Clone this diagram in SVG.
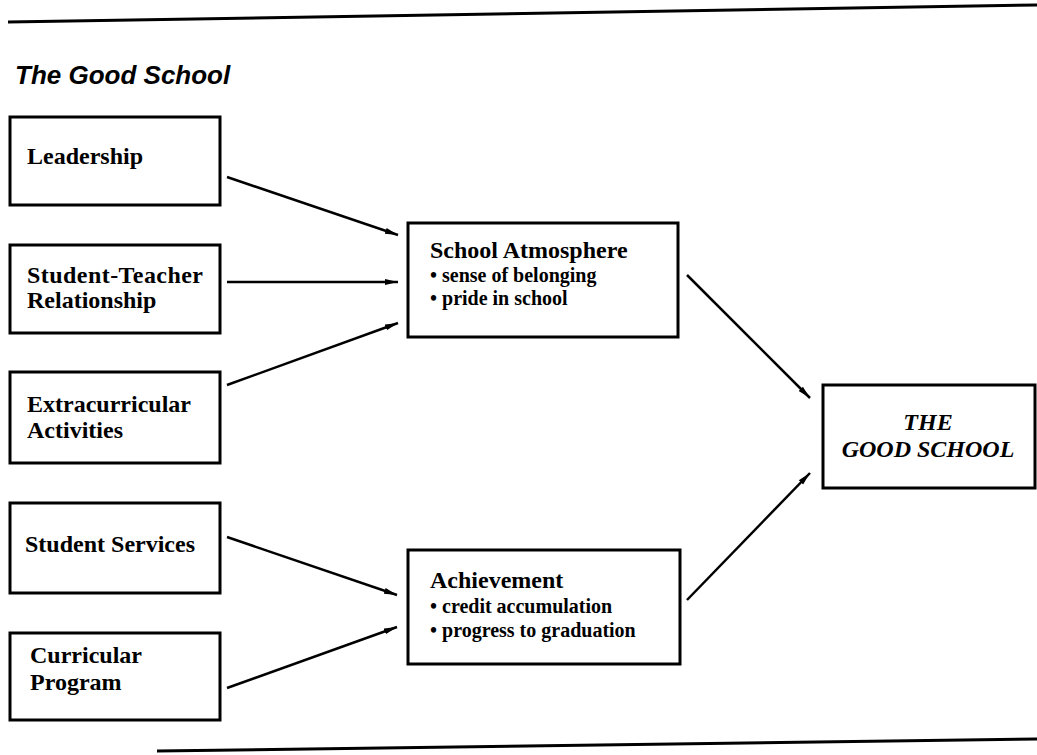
<svg xmlns="http://www.w3.org/2000/svg" width="1037" height="755" viewBox="0 0 1037 755">
<style>
.box{fill:#fff;stroke:#000;stroke-width:3}
.lbl{font-family:"Liberation Serif",serif;font-weight:bold;font-size:24px;fill:#000}
.head{font-family:"Liberation Serif",serif;font-weight:bold;font-size:24px;fill:#000}
.bul{font-family:"Liberation Serif",serif;font-weight:bold;font-size:20px;fill:#000}
.big{font-family:"Liberation Serif",serif;font-weight:bold;font-style:italic;font-size:24px;fill:#000}
.title{font-family:"Liberation Sans",sans-serif;font-weight:bold;font-style:italic;font-size:26px;fill:#000}
.rule{stroke:#000;stroke-width:3;fill:none}
.conn line{stroke:#000;stroke-width:2.5;marker-end:url(#ah)}
</style>
<defs>
<marker id="ah" markerUnits="userSpaceOnUse" markerWidth="14" markerHeight="8" refX="13" refY="4" orient="auto">
<path d="M0,1 L13,4 L0,7 Z" fill="#000"/>
</marker>
</defs>
<rect width="1037" height="755" fill="#fff"/>
<line class="rule" x1="8" y1="22" x2="1037" y2="5"/>
<line class="rule" x1="157" y1="751" x2="1037" y2="739"/>
<text class="title" x="15" y="84">The Good School</text>

<g id="leadership">
<rect class="box" x="10" y="117" width="210" height="88"/>
<text class="lbl" x="27" y="164">Leadership</text>
</g>
<g id="student-teacher">
<rect class="box" x="10" y="245" width="210" height="88"/>
<text class="lbl" x="27" y="283" textLength="176">Student-Teacher</text>
<text class="lbl" x="27" y="308">Relationship</text>
</g>
<g id="extracurricular">
<rect class="box" x="10" y="372" width="210" height="91"/>
<text class="lbl" x="27" y="412">Extracurricular</text>
<text class="lbl" x="27" y="438">Activities</text>
</g>
<g id="student-services">
<rect class="box" x="10" y="503" width="210" height="90"/>
<text class="lbl" x="25" y="552">Student Services</text>
</g>
<g id="curricular">
<rect class="box" x="10" y="633" width="210" height="87"/>
<text class="lbl" x="30" y="663">Curricular</text>
<text class="lbl" x="30" y="690">Program</text>
</g>
<g id="school-atmosphere">
<rect class="box" x="408" y="223" width="270" height="114"/>
<text class="head" x="430" y="258">School Atmosphere</text>
<text class="bul" x="430" y="282">• sense of belonging</text>
<text class="bul" x="430" y="305">• pride in school</text>
</g>
<g id="achievement">
<rect class="box" x="408" y="550" width="272" height="114"/>
<text class="head" x="430" y="588">Achievement</text>
<text class="bul" x="430" y="613">• credit accumulation</text>
<text class="bul" x="430" y="637">• progress to graduation</text>
</g>
<g id="the-good-school">
<rect class="box" x="823" y="385" width="212" height="103"/>
<text class="big" x="928" y="430" text-anchor="middle">THE</text>
<text class="big" x="928" y="457" text-anchor="middle">GOOD SCHOOL</text>
</g>

<g id="connectors" class="conn">
<line x1="227" y1="177" x2="398" y2="235"/>
<line x1="227" y1="282" x2="398" y2="282"/>
<line x1="227" y1="385" x2="398" y2="323"/>
<line x1="227" y1="537" x2="397" y2="595"/>
<line x1="227" y1="688" x2="397" y2="627"/>
<line x1="687" y1="275" x2="810" y2="398"/>
<line x1="687" y1="600" x2="810" y2="473"/>
</g>
</svg>
